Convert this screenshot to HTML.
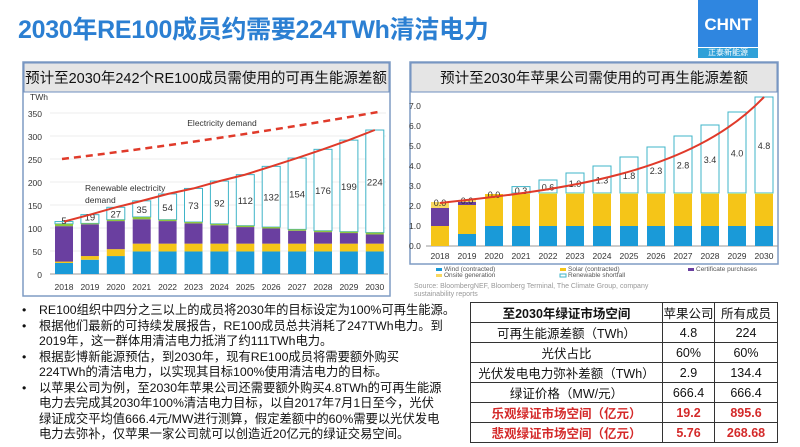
<!DOCTYPE html>
<html><head><meta charset="utf-8"><style>
body{margin:0;width:800px;height:447px;overflow:hidden;background:#fff;font-family:"Liberation Sans","Noto Sans CJK SC",sans-serif;position:relative}
.t{position:absolute;left:18px;top:10px;font-size:25px;font-weight:bold;color:#2b7fd2;letter-spacing:-0.3px}
.logo{position:absolute;left:698px;top:0;width:60px;height:47px;background:#2f86e0;color:#fff;font-weight:bold;font-size:17px;text-align:center;line-height:50px}
.logo2{position:absolute;left:698px;top:48px;width:60px;height:10px;background:#2fa0d8;color:#fff;font-size:8px;text-align:center;line-height:10px}
.b{position:absolute;left:22px;top:303px;font-size:12.3px;color:#111;line-height:15.5px;white-space:nowrap}
.b div{position:relative;padding-left:17px}
.b div.d:before{content:"•";position:absolute;left:0}
table{position:absolute;left:470px;top:302px;border-collapse:collapse;background:#fff;font-size:12.5px}
td{border:1px solid #333;height:18px;padding:0;text-align:center;color:#111}
tr.r td{color:#d42a2a;font-weight:bold}
</style></head><body>
<div class="t">2030年RE100成员约需要224TWh清洁电力</div>
<div class="logo">CHNT</div><div class="logo2">正泰新能源</div>
<svg width="800" height="300" style="position:absolute;left:0;top:0" font-family="Liberation Sans, Noto Sans CJK SC, sans-serif">
<rect x="23" y="62" width="367" height="234" fill="#fff" stroke="#7f9cc4" stroke-width="1.5"/>
<rect x="24" y="63" width="365" height="29" fill="#e5e5e5" stroke="#6f8fbf"/>
<text x="206" y="83" font-size="14.5" text-anchor="middle" fill="#111">预计至2030年242个RE100成员需使用的可再生能源差额</text>
<g font-size="8.5" fill="#333">
<text x="30" y="100">TWh</text>
<g stroke="#ddd" stroke-width="0.6">
<line x1="50" y1="113" x2="386" y2="113"/><line x1="50" y1="136" x2="386" y2="136"/><line x1="50" y1="159" x2="386" y2="159"/><line x1="50" y1="182" x2="386" y2="182"/><line x1="50" y1="205" x2="386" y2="205"/><line x1="50" y1="228" x2="386" y2="228"/><line x1="50" y1="251" x2="386" y2="251"/></g>
<line x1="50" y1="274" x2="388" y2="274" stroke="#999"/>
<text x="42" y="117" text-anchor="end">350</text><text x="42" y="140" text-anchor="end">300</text><text x="42" y="163" text-anchor="end">250</text><text x="42" y="186" text-anchor="end">200</text><text x="42" y="209" text-anchor="end">150</text><text x="42" y="232" text-anchor="end">100</text><text x="42" y="255" text-anchor="end">50</text><text x="42" y="278" text-anchor="end">0</text>
</g>
<g id="L"></g>
<rect x="410" y="62" width="368" height="202" fill="#fff" stroke="#7f9cc4" stroke-width="1.5"/>
<rect x="411" y="63" width="366" height="29" fill="#e5e5e5" stroke="#6f8fbf"/>
<text x="594" y="83" font-size="14.5" text-anchor="middle" fill="#111">预计至2030年苹果公司需使用的可再生能源差额</text>
<g font-size="8.5" fill="#333">
<text x="409" y="109">7.0</text><text x="409" y="129">6.0</text><text x="409" y="149">5.0</text><text x="409" y="169">4.0</text><text x="409" y="189">3.0</text><text x="409" y="209">2.0</text><text x="409" y="229">1.0</text><text x="409" y="249">0.0</text>
<line x1="426" y1="246" x2="778" y2="246" stroke="#999"/>
</g>
<g id="R"></g>
</svg>
<svg width="800" height="300" style="position:absolute;left:0;top:0" id="s2" font-family="Liberation Sans, sans-serif"></svg>
<div class="b">
<div class="d">RE100组织中四分之三以上的成员将2030年的目标设定为100%可再生能源。</div>
<div class="d">根据他们最新的可持续发展报告，RE100成员总共消耗了247TWh电力。到</div>
<div>2019年，这一群体用清洁电力抵消了约111TWh电力。</div>
<div class="d">根据彭博新能源预估，到2030年，现有RE100成员将需要额外购买</div>
<div>224TWh的清洁电力，以实现其目标100%使用清洁电力的目标。</div>
<div class="d">以苹果公司为例，至2030年苹果公司还需要额外购买4.8TWh的可再生能源</div>
<div>电力去完成其2030年100%清洁电力目标，以自2017年7月1日至今，光伏</div>
<div>绿证成交平均值666.4元/MW进行测算，假定差额中的60%需要以光伏发电</div>
<div>电力去弥补，仅苹果一家公司就可以创造近20亿元的绿证交易空间。</div>
</div>
<table>
<tr><td style="width:191px;font-weight:bold">至2030年绿证市场空间</td><td style="width:51px">苹果公司</td><td style="width:62px">所有成员</td></tr>
<tr><td>可再生能源差额（TWh）</td><td>4.8</td><td>224</td></tr>
<tr><td>光伏占比</td><td>60%</td><td>60%</td></tr>
<tr><td>光伏发电电力弥补差额（TWh）</td><td>2.9</td><td>134.4</td></tr>
<tr><td>绿证价格（MW/元）</td><td>666.4</td><td>666.4</td></tr>
<tr class="r"><td>乐观绿证市场空间（亿元）</td><td>19.2</td><td>895.6</td></tr>
<tr class="r"><td>悲观绿证市场空间（亿元）</td><td>5.76</td><td>268.68</td></tr>
</table>
<script>
var s=document.getElementById('s2'),h='';
function R(x,y,w,hh,f,st){h+='<rect x="'+x+'" y="'+y+'" width="'+w+'" height="'+hh+'" fill="'+f+'"'+(st?' stroke="'+st+'" stroke-width="1"':'')+'/>';}
function T(x,y,t,sz,a,c){h+='<text x="'+x+'" y="'+y+'" font-size="'+sz+'" text-anchor="'+(a||'middle')+'" fill="'+(c||'#333')+'">'+t+'</text>';}
var L=[[24,27,104,109,114,5],[31,39,108,110,129,19],[39,54,115,118,145,27],[49,66,119,124,159,35],[49,66,115,118,174,54],[49,66,110,113,186,73],[49,66,106,109,202,92],[49,66,102,105,216,112],[49,66,99,102,234,132],[49,66,94,97,252,154],[49,66,91,94,271,176],[49,66,89,92,291,199],[49,66,86,90,313,224]];
function ly(v){return 274-v*0.46}
var pts=[];
L.forEach(function(d,i){var x=64+i*25.9,w=18,x0=x-w/2;
R(x0,ly(d[4]),w,ly(d[3])-ly(d[4]),'#fff','#3fb4c8');
R(x0,ly(d[0]),w,ly(0)-ly(d[0]),'#1a9ad8');R(x0,ly(d[1]),w,ly(d[0])-ly(d[1]),'#f5c518');R(x0,ly(d[2]),w,ly(d[1])-ly(d[2]),'#6a3fa0');R(x0,ly(d[3]),w,ly(d[2])-ly(d[3]),'#8cc63f');
T(x,i<2?ly(d[3])+(i==0?0:-3):(ly(d[3])+ly(d[4]))/2+4,d[5],9.5);
T(x,290,2018+i,8.5);pts.push(x.toFixed(1)+','+ly(d[4]).toFixed(1));});
h+='<polyline points="'+pts.join(' ')+'" fill="none" stroke="#e03a2a" stroke-width="2"/>';
h+='<path d="M62,159 Q220,140 378,112" fill="none" stroke="#e03a2a" stroke-width="2.5" stroke-dasharray="7,5"/>';
T(222,126,'Electricity demand',8.5);T(85,191,'Renewable electricity',8.5,'start');T(85,203,'demand',8.5,'start');
function ry(v){return 246-v*20}
var Rd=[[0,1,1.9,2.2,2.2,'0.0'],[0.6,2.05,2.2,2.3,2.3,'0.0'],[1,2.6,2.6,2.6,2.6,'0.0'],[1,2.6,2.6,2.65,2.97,'0.3'],[1,2.6,2.6,2.65,3.3,'0.6'],[1,2.6,2.6,2.65,3.65,'1.0'],[1,2.6,2.6,2.65,4.0,'1.3'],[1,2.6,2.6,2.65,4.45,'1.8'],[1,2.6,2.6,2.65,4.95,'2.3'],[1,2.6,2.6,2.65,5.5,'2.8'],[1,2.6,2.6,2.65,6.05,'3.4'],[1,2.6,2.6,2.65,6.7,'4.0'],[1,2.6,2.6,2.65,7.45,'4.8']];
var p2=[];
Rd.forEach(function(d,i){var x=440+i*27,w=18,x0=x-w/2;
if(d[4]>d[3])R(x0,ry(d[4]),w,ry(d[3])-ry(d[4]),'#fff','#3fb4c8');
R(x0,ry(d[0]),w,ry(0)-ry(d[0]),'#1a9ad8');R(x0,ry(d[1]),w,ry(d[0])-ry(d[1]),'#f5c518');R(x0,ry(d[2]),w,ry(d[1])-ry(d[2]),'#6a3fa0');R(x0,ry(d[3]),w,ry(d[2])-ry(d[3]),i<3?'#f8d860':'#b8e08a');
T(x,i<3?ry(d[4])+4:(ry(d[3])+ry(d[4]))/2+4,d[5],9);
T(x,259,2018+i,8.5);});
h+='<path d="M440,203 C560,190 690,175 764,97" fill="none" stroke="#e03a2a" stroke-width="2"/>';
R(436,268,6,3,'#1a9ad8');T(444,271,'Wind (contracted)',6.5,'start','#555');
R(560,268,6,3,'#f5c518');T(568,271,'Solar (contracted)',6.5,'start','#555');
R(688,268,6,3,'#6a3fa0');T(696,271,'Certificate purchases',6.5,'start','#555');
R(436,274,6,3,'#f8d860');T(444,277,'Onsite generation',6.5,'start','#555');
R(560,274,6,3,'#fff','#3fb4c8');T(568,277,'Renewable shortfall',6.5,'start','#555');
T(414,288,'Source: BloombergNEF, Bloomberg Terminal, The Climate Group, company',7,'start','#999');
T(414,296,'sustainability reports',7,'start','#999');
s.innerHTML=h;
</script>
</body></html>
